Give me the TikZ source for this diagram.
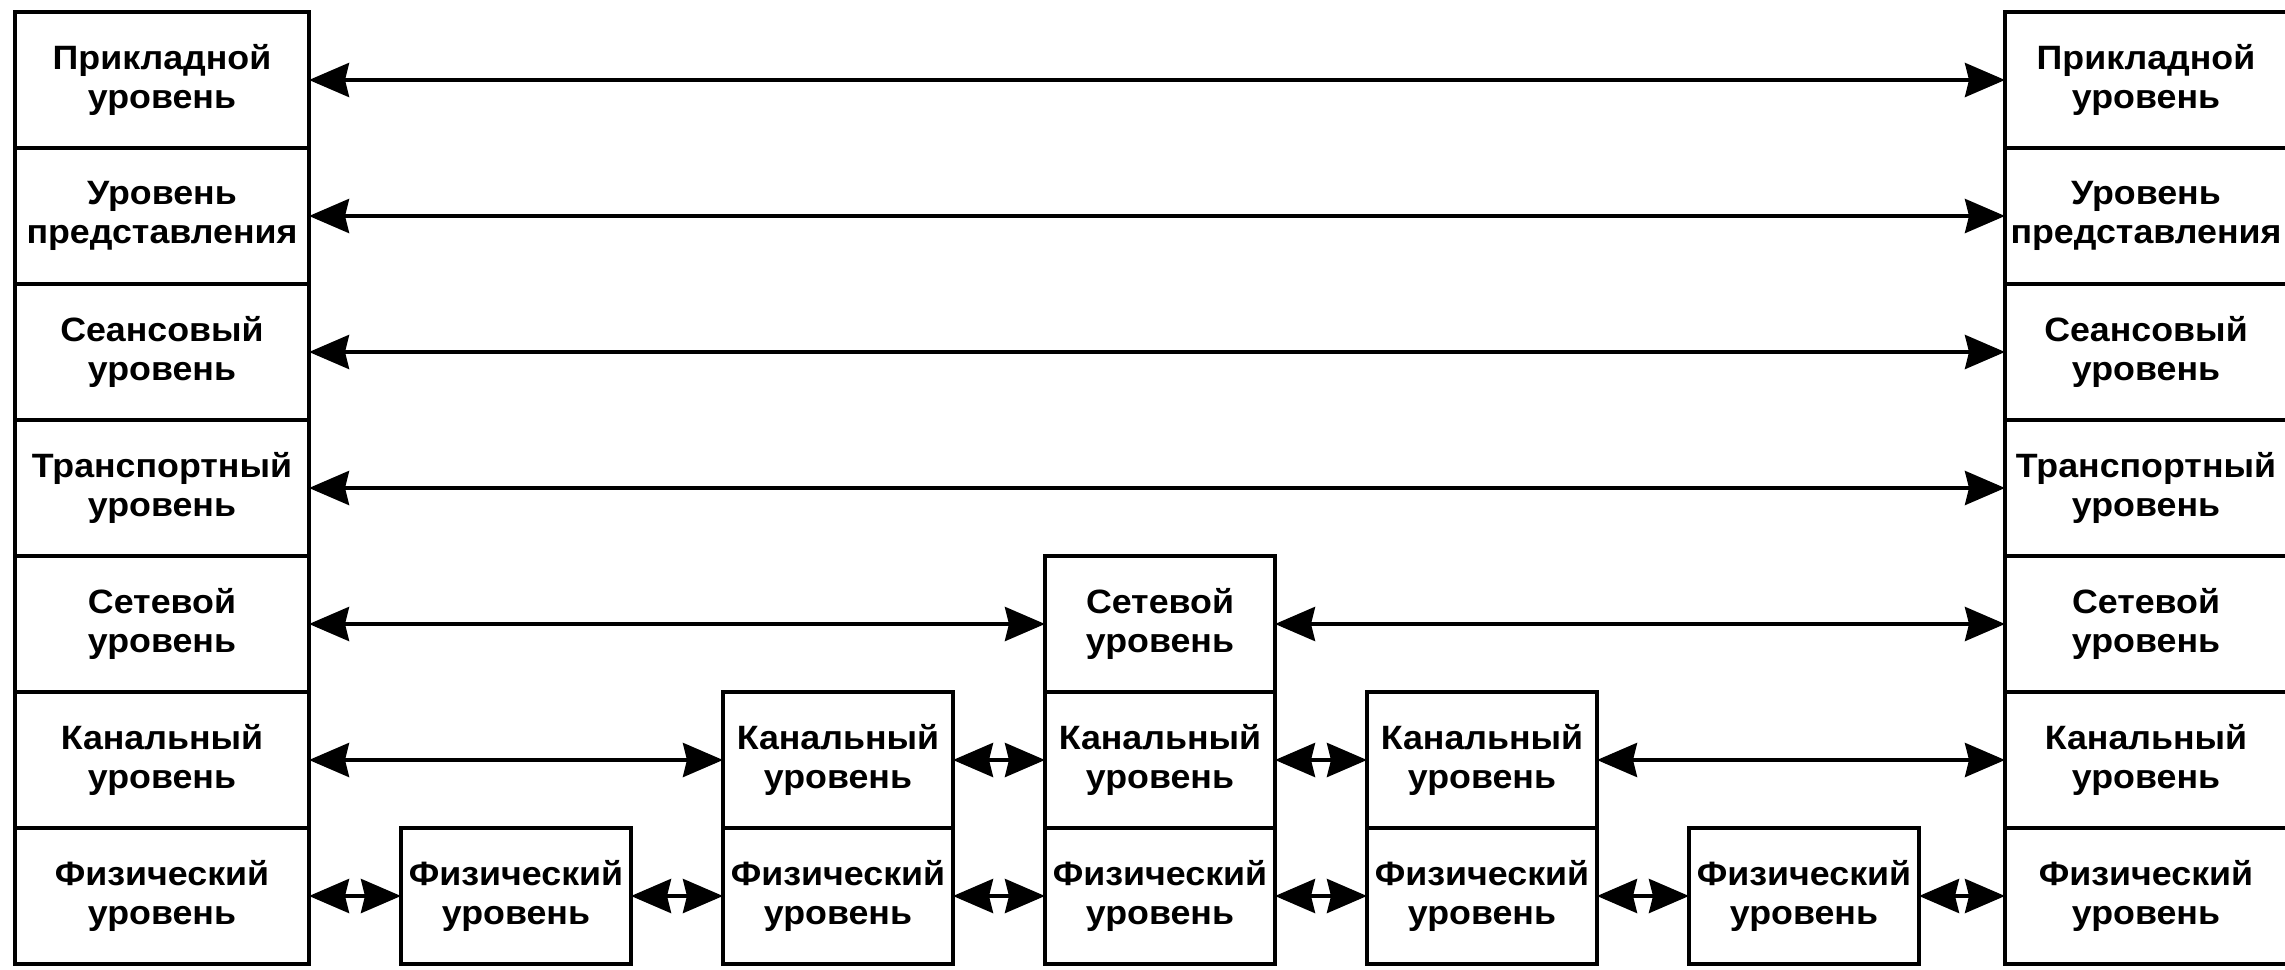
\documentclass[tikz,border=0pt]{standalone}
\usepackage{fontspec}
\setmainfont{Liberation Sans}[FakeStretch=1.06]
\usetikzlibrary{arrows.meta, positioning}

\begin{document}
\begin{tikzpicture}[
    >={Stealth[length=4mm, width=3.4mm, inset=0.4mm]},
    node distance=0pt and 0.92cm,
    % Стили блоков
    layerbox/.style={rectangle, draw, line width=1.1pt, minimum width=2.94cm, minimum height=1.36cm, inner sep=0pt, outer sep=0pt, align=center, font=\fontsize{9.6}{11.3}\selectfont\bfseries},
    hostbbox/.style={layerbox, minimum width=2.82cm},
    devbox/.style={layerbox, minimum width=2.30cm},
    peer/.style={<->, line width=1.1pt}
]
\useasboundingbox (0,0) rectangle (22.85,-9.70);
\clip (0,0) rectangle (22.85,-9.70);

% -------------------------
% УЗЕЛ A (слева)
% -------------------------
\node[layerbox] (app_a) at (1.62,-0.80) {Прикладной\\уровень};
\node[layerbox, below=of app_a] (pres_a) {Уровень\\представления};
\node[layerbox, below=of pres_a] (sess_a) {Сеансовый\\уровень};
\node[layerbox, below=of sess_a] (trans_a) {Транспортный\\уровень};
\node[layerbox, below=of trans_a] (net_a) {Сетевой\\уровень};
\node[layerbox, below=of net_a] (link_a) {Канальный\\уровень};
\node[layerbox, below=of link_a] (phys_a) {Физический\\уровень};

% -------------------------
% ПРОМЕЖУТОЧНЫЕ УСТРОЙСТВА
% -------------------------
\node[devbox, right=of phys_a] (phys_r1) {Физический\\уровень};

\node[devbox, right=of phys_r1] (phys_s1) {Физический\\уровень};
\node[devbox, above=of phys_s1] (link_s1) {Канальный\\уровень};

\node[devbox, right=of phys_s1] (phys_r) {Физический\\уровень};
\node[devbox, above=of phys_r] (link_r) {Канальный\\уровень};
\node[devbox, above=of link_r] (net_r) {Сетевой\\уровень};

\node[devbox, right=of phys_r] (phys_s2) {Физический\\уровень};
\node[devbox, above=of phys_s2] (link_s2) {Канальный\\уровень};

\node[devbox, right=of phys_s2] (phys_r2) {Физический\\уровень};

% -------------------------
% УЗЕЛ B (справа)
% -------------------------
\node[hostbbox, right=0.86cm of phys_r2] (phys_b) {Физический\\уровень};
\node[hostbbox, above=of phys_b] (link_b) {Канальный\\уровень};
\node[hostbbox, above=of link_b] (net_b) {Сетевой\\уровень};
\node[hostbbox, above=of net_b] (trans_b) {Транспортный\\уровень};
\node[hostbbox, above=of trans_b] (sess_b) {Сеансовый\\уровень};
\node[hostbbox, above=of sess_b] (pres_b) {Уровень\\представления};
\node[hostbbox, above=of pres_b] (app_b) {Прикладной\\уровень};

% -------------------------
% ВЗАИМОДЕЙСТВИЯ УРОВНЕЙ
% -------------------------
\draw[peer] (app_a) -- (app_b);
\draw[peer] (pres_a) -- (pres_b);
\draw[peer] (sess_a) -- (sess_b);
\draw[peer] (trans_a) -- (trans_b);

\draw[peer] (net_a) -- (net_r);
\draw[peer] (net_r) -- (net_b);

\draw[peer] (link_a) -- (link_s1);
\draw[peer] (link_s1) -- (link_r);
\draw[peer] (link_r) -- (link_s2);
\draw[peer] (link_s2) -- (link_b);

\draw[peer] (phys_a) -- (phys_r1);
\draw[peer] (phys_r1) -- (phys_s1);
\draw[peer] (phys_s1) -- (phys_r);
\draw[peer] (phys_r) -- (phys_s2);
\draw[peer] (phys_s2) -- (phys_r2);
\draw[peer] (phys_r2) -- (phys_b);

\end{tikzpicture}
\end{document}
